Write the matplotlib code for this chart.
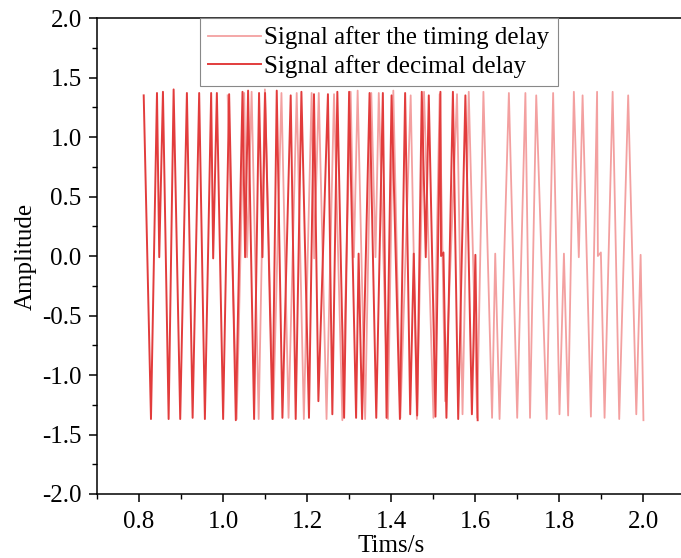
import matplotlib
matplotlib.use('Agg')
import matplotlib.pyplot as plt
from matplotlib.ticker import MultipleLocator, FormatStrFormatter

# vertex times (s)
t_decimal = [0.8112, 0.8285, 0.8428, 0.8482, 0.8570, 0.8705, 0.8824, 0.8981, 0.9140, 0.9276,
             0.9432, 0.9568, 0.9717, 0.9765, 0.9853, 1.0002, 1.0145, 1.0304, 1.0463, 1.0525,
             1.0596, 1.0739, 1.0857, 1.0938, 1.1000, 1.1176, 1.1278, 1.1413, 1.1610, 1.1729,
             1.1865, 1.2045, 1.2164, 1.2269, 1.2496, 1.2601, 1.2720, 1.2881, 1.3000, 1.3166,
             1.3226, 1.3309, 1.3487, 1.3646, 1.3803, 1.3891, 1.4010, 1.4209, 1.4333, 1.4454,
             1.4539, 1.4620, 1.4729, 1.4824, 1.4896, 1.5055, 1.5173, 1.5188, 1.5245, 1.5316,
             1.5470, 1.5596, 1.5767, 1.5922, 1.6005, 1.6059]

t_timing = [1.0110, 1.0325, 1.0503, 1.0571, 1.0680, 1.0848, 1.0996, 1.1192, 1.1390, 1.1559,
            1.1753, 1.1923, 1.2108, 1.2168, 1.2278, 1.2463, 1.2641, 1.2839, 1.3037, 1.3114,
            1.3203, 1.3381, 1.3528, 1.3628, 1.3706, 1.3925, 1.4052, 1.4220, 1.4465, 1.4613,
            1.4783, 1.5007, 1.5155, 1.5285, 1.5568, 1.5699, 1.5847, 1.6047, 1.6196, 1.6402,
            1.6477, 1.6580, 1.6802, 1.7000, 1.7195, 1.7305, 1.7453, 1.7701, 1.7855, 1.8006,
            1.8112, 1.8212, 1.8348, 1.8466, 1.8556, 1.8754, 1.8901, 1.8920, 1.8991, 1.9079,
            1.9271, 1.9428, 1.9641, 1.9834, 1.9937, 2.0004]

# amplitudes at each vertex (same symbol sequence in both signals)
amp = [1.35, -1.37, 1.37, -0.01, 1.38, -1.37, 1.40, -1.37, 1.37, -1.36,
       1.37, -1.37, 1.37, -0.02, 1.37, -1.37, 1.36, -1.38, 1.38, -0.01,
       1.39, -1.37, 1.37, -0.01, 1.37, -1.37, 1.39, -1.36, 1.35, -1.37,
       1.38, -1.36, 1.36, -1.22, 1.36, -1.33, 1.38, -1.36, 1.38, -1.36,
       0.02, -1.37, 1.37, -1.36, 1.37, -1.36, 1.35, -1.37, 1.37, -1.33,
       0.02, -1.34, 1.38, -0.01, 1.35, -1.35, 1.38, 0.00, 0.03, -1.36,
       1.38, -1.37, 1.35, -1.33, 0.01, -1.38]

labels = ['Signal after the timing delay', 'Signal after decimal delay']

plt.rcParams['font.family'] = ['Liberation Serif', 'DejaVu Serif']
plt.rcParams['font.size'] = 18

fig = plt.figure(figsize=(6.81, 5.58), dpi=100)
ax = fig.add_axes([0.1424, 0.1147, 0.8639, 0.853])

ax.plot(t_timing, amp, color='#f3a0a0', lw=1.3, label=labels[0])
ax.plot(t_decimal, amp, color='#e23c3c', lw=1.4, label=labels[1])

ax.set_xlim(0.7, 2.1)
ax.set_ylim(-2.0, 2.0)
ax.xaxis.set_minor_locator(MultipleLocator(0.1))
ax.yaxis.set_major_locator(MultipleLocator(0.5))
ax.yaxis.set_minor_locator(MultipleLocator(0.25))
ax.xaxis.set_major_formatter(FormatStrFormatter('%.1f'))
ax.yaxis.set_major_formatter(FormatStrFormatter('%.1f'))
ax.set_xticks([0.8, 1.0, 1.2, 1.4, 1.6, 1.8, 2.0])

for s in ax.spines.values():
    s.set_linewidth(1.1)
ax.tick_params(which='major', direction='out', length=6, width=1.1, labelsize=18)
ax.tick_params(which='minor', direction='out', length=3.5, width=1.0)
ax.tick_params(axis='x', which='major', pad=6)
ax.tick_params(axis='y', which='major', pad=5)

ax.set_xlabel('Tims/s', fontsize=18, labelpad=2)
ax.set_ylabel('Amplitude', fontsize=18, labelpad=4)

leg = ax.legend(loc='upper left', bbox_to_anchor=(0.175, 1.0), borderaxespad=0,
                fancybox=False, framealpha=1, edgecolor='#888888', handlelength=2.1,
                labelspacing=0.24, borderpad=0.33, handletextpad=0.15, fontsize=18)
leg.get_frame().set_linewidth(0.8)

fig.savefig('out.png', dpi=100)
